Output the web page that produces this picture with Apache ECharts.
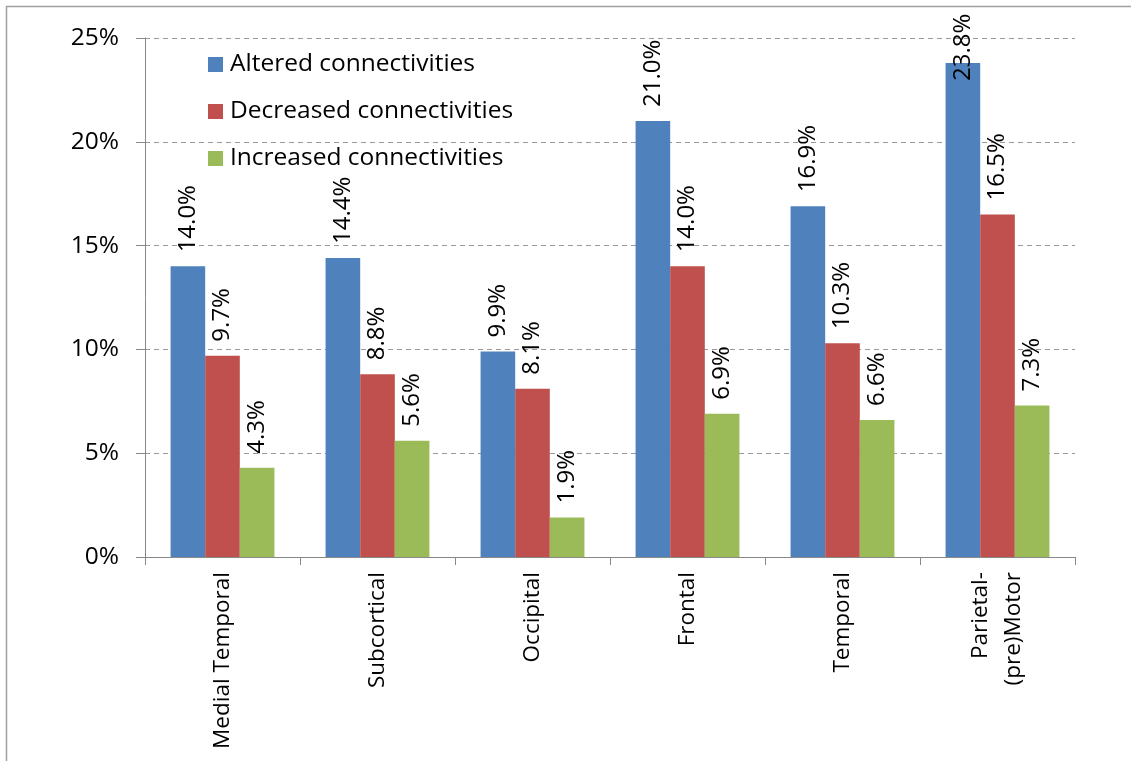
<!DOCTYPE html>
<html><head><meta charset="utf-8">
<script src="https://cdn.jsdelivr.net/npm/echarts@6/dist/echarts.min.js"></script>
<style>html,body{margin:0;padding:0;background:#fff}#c{width:1131px;height:761px}</style>
</head><body><div id="c"></div>
<script>
const categories = ['Medial Temporal','Subcortical','Occipital','Frontal','Temporal','Parietal-\n(pre)Motor'];
const seriesNames = ['Altered connectivities','Decreased connectivities','Increased connectivities'];
const altered = [14.0, 14.4, 9.9, 21.0, 16.9, 23.8];
const decreased = [9.7, 8.8, 8.1, 14.0, 10.3, 16.5];
const increased = [4.3, 5.6, 1.9, 6.9, 6.6, 7.3];
const yTicks = [0, 5, 10, 15, 20, 25];

const colors = ['#4F81BD', '#C0504D', '#9BBB59'];
const FONT = 'Open Sans';
const chart = echarts.init(document.getElementById('c'));
const yMax = yTicks[yTicks.length - 1];

function mkData(arr) {
  return arr.map(v => {
    const item = { value: v };
    // labels that would leave the chart area are pushed down (as Excel does)
    if (v > 23) item.label = { distance: -18 };
    return item;
  });
}

const series = [altered, decreased, increased].map((arr, i) => ({
  name: seriesNames[i],
  type: 'bar',
  data: mkData(arr),
  barGap: '0%',
  barCategoryGap: '33%',
  itemStyle: { color: colors[i] },
  label: {
    show: true,
    position: 'top',
    rotate: 90,
    align: 'left',
    verticalAlign: 'middle',
    distance: 14,
    fontFamily: FONT,
    fontSize: 24,
    color: '#000',
    formatter: p => p.value.toFixed(1) + '%'
  }
}));

chart.setOption({
  animation: false,
  color: colors,
  graphic: [{
    type: 'rect', shape: { x: 6.5, y: 6.5, width: 1200, height: 900 },
    style: { fill: 'none', stroke: '#a0a0a0', lineWidth: 1.5 }, silent: true
  }],
  grid: { left: 145, right: 56, top: 38, bottom: 204 },
  legend: {
    orient: 'vertical',
    left: 203, top: 47,
    itemWidth: 15, itemHeight: 15,
    itemGap: 22,
    icon: 'rect',
    textStyle: { fontFamily: FONT, fontSize: 24.5, color: '#000', lineHeight: 25, padding: [0, 0, 0, 2] },
    data: seriesNames
  },
  xAxis: {
    type: 'category',
    data: categories,
    axisLine: { lineStyle: { color: '#888', width: 1 } },
    axisTick: { show: true, length: 8, alignWithLabel: false, lineStyle: { color: '#888' } },
    axisLabel: { rotate: 90, margin: 15, fontFamily: FONT, fontSize: 22.5, color: '#000', lineHeight: 33, interval: 0 }
  },
  yAxis: {
    type: 'value',
    min: yTicks[0], max: yMax, interval: yTicks[1] - yTicks[0],
    axisLine: { show: true, lineStyle: { color: '#888', width: 1 } },
    axisTick: { show: true, length: 9, lineStyle: { color: '#888' } },
    splitLine: { show: true, lineStyle: { color: '#999', type: [5, 4], width: 1 } },
    axisLabel: { margin: 26, fontFamily: FONT, fontSize: 24.5, color: '#000', formatter: v => v + '%' }
  },
  series: series
});
</script></body></html>
